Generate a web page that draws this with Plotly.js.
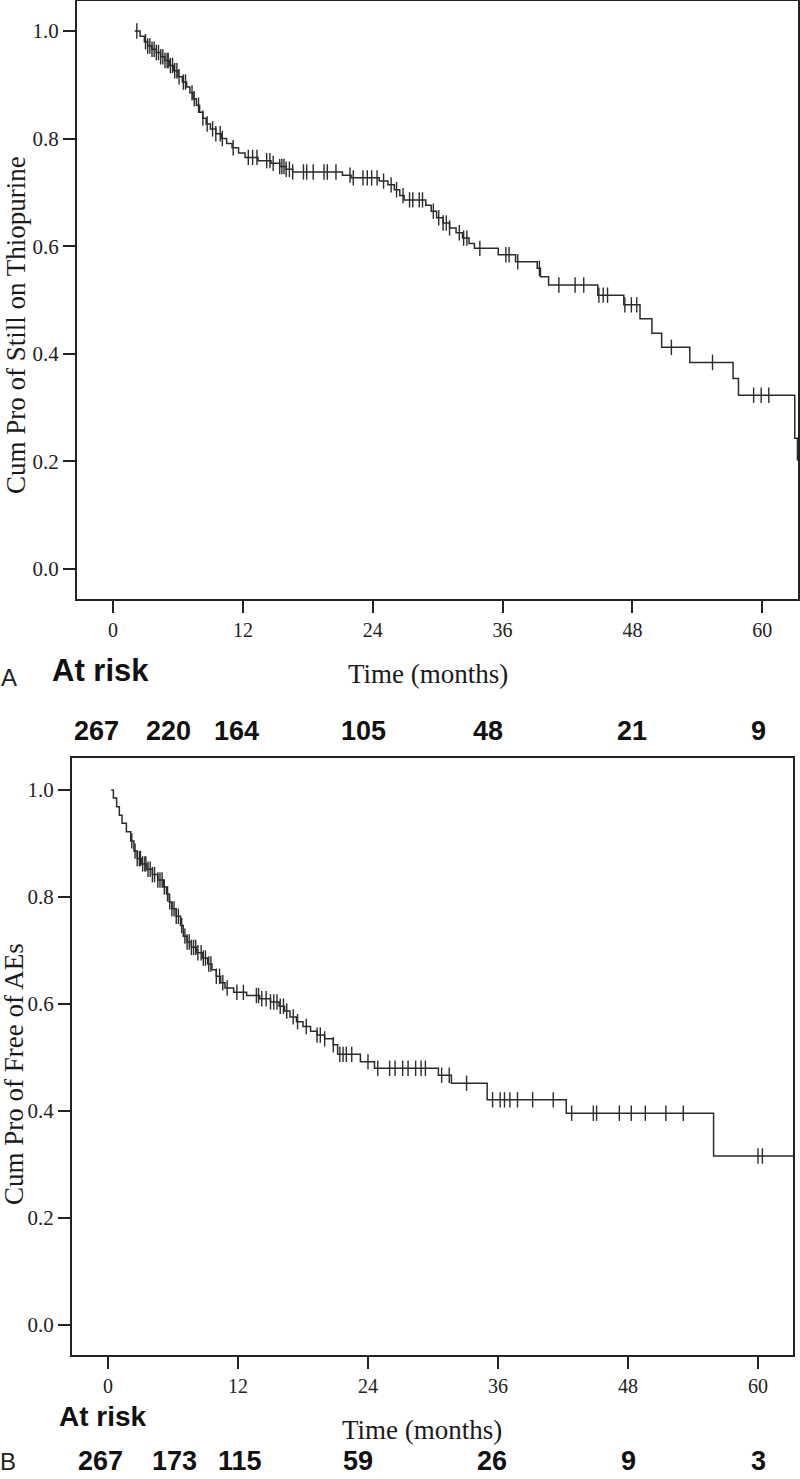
<!DOCTYPE html>
<html>
<head>
<meta charset="utf-8">
<script src="https://cdn.plot.ly/plotly-3.0.1.min.js"></script>
<style>
  body { margin: 0; background: #fff; }
  #chart { width: 800px; height: 1479px; }
</style>
</head>
<body>
<div id="chart"></div>
<script>
// panel A: still on thiopurine (months, cumulative proportion)
const thioTime = [2.0, 2.5, 2.9, 3.2, 3.6, 4.0, 4.4, 4.8, 5.2, 5.6, 6.0, 6.4, 6.8, 7.1, 7.4, 7.7, 8.0, 8.3, 8.6, 9.0,
  9.5, 10.0, 10.5, 11.0, 11.6, 12.2, 13.4, 14.6, 15.4, 16.0, 16.6, 21.2, 22.0, 24.6, 25.4, 26.0, 26.5, 26.9, 28.9, 29.4,
  29.9, 30.5, 31.1, 31.7, 32.3, 32.9, 33.4, 35.6, 37.2, 39.2, 39.5, 40.25, 44.8, 47.2, 48.7, 49.8, 50.7, 53.3, 57.3, 57.8,
  63.0, 63.25, 64.0];
const thioSurv = [1.000, 0.990, 0.980, 0.972, 0.966, 0.960, 0.952, 0.945, 0.936, 0.926, 0.915, 0.905, 0.896, 0.885, 0.874, 0.862, 0.849, 0.838, 0.827, 0.818,
  0.809, 0.800, 0.791, 0.783, 0.773, 0.765, 0.759, 0.754, 0.748, 0.743, 0.738, 0.732, 0.727, 0.721, 0.714, 0.705, 0.694, 0.686, 0.676, 0.665,
  0.653, 0.643, 0.634, 0.625, 0.615, 0.605, 0.596, 0.584, 0.571, 0.559, 0.543, 0.528, 0.509, 0.491, 0.465, 0.438, 0.412, 0.384, 0.354, 0.323,
  0.243, 0.203, 0.203];
const thioCensor = [2.2, 3.0, 3.2, 3.4, 3.6, 3.8, 4.0, 4.2, 4.4, 4.6, 4.8, 5.0, 5.1, 5.3, 5.5, 5.7, 5.9, 6.1, 6.5, 6.7,
  7.3, 7.5, 7.9, 8.3, 8.7, 9.2, 9.5, 9.9, 10.1, 11.1, 12.5, 12.9, 13.3, 14.2, 14.5, 14.8, 15.4, 15.6, 15.8, 16.0,
  16.3, 16.6, 17.6, 17.9, 18.5, 19.5, 19.8, 20.6, 21.9, 22.2, 23.1, 23.5, 23.9, 24.4, 25.0, 25.7, 26.2, 26.8, 27.4, 27.7,
  28.3, 28.6, 29.6, 30.1, 30.5, 30.8, 31.1, 32.0, 32.4, 32.7, 33.9, 36.3, 36.6, 37.4, 39.4, 41.2, 42.7, 43.5, 44.9, 45.3,
  45.7, 47.3, 47.9, 48.4, 51.6, 55.4, 59.2, 59.9, 60.6];

// panel B: free of adverse events
const aeTime = [0.3, 0.5, 0.8, 1.05, 1.3, 1.7, 2.1, 2.4, 2.7, 3.1, 3.6, 4.1, 4.6, 5.1, 5.4, 5.65, 5.9, 6.3, 6.7, 6.95,
  7.3, 7.7, 8.2, 8.7, 9.2, 9.6, 10.0, 10.4, 10.8, 11.6, 12.8, 14.0, 15.0, 15.8, 16.3, 16.8, 17.4, 18.0, 18.7, 19.3,
  20.0, 20.8, 21.2, 23.3, 24.6, 30.5, 31.7, 35.0, 42.3, 55.9, 64.0];
const aeSurv = [1.000, 0.985, 0.969, 0.953, 0.938, 0.922, 0.905, 0.886, 0.872, 0.862, 0.852, 0.842, 0.832, 0.819, 0.806, 0.791, 0.778, 0.764, 0.747, 0.727,
  0.716, 0.706, 0.696, 0.686, 0.675, 0.664, 0.652, 0.640, 0.630, 0.622, 0.616, 0.610, 0.604, 0.596, 0.587, 0.576, 0.567, 0.558, 0.549, 0.542,
  0.535, 0.524, 0.506, 0.492, 0.480, 0.467, 0.452, 0.421, 0.396, 0.316, 0.316];
const aeCensor = [2.2, 2.5, 2.7, 2.9, 3.0, 3.2, 3.4, 3.5, 3.7, 3.9, 4.1, 4.3, 4.6, 4.8, 5.0, 5.2, 5.5, 5.7, 5.9, 6.1,
  6.3, 6.5, 6.8, 7.1, 7.3, 7.5, 7.7, 7.9, 8.1, 8.3, 8.6, 8.8, 9.0, 9.3, 9.5, 10.0, 10.3, 10.6, 11.0, 11.9,
  12.5, 13.7, 13.9, 14.2, 14.6, 15.0, 15.3, 15.6, 15.9, 16.2, 16.5, 17.1, 17.5, 18.3, 19.3, 19.6, 20.0, 20.8, 21.4, 21.7,
  22.0, 22.5, 24.0, 24.9, 26.0, 26.5, 27.2, 27.7, 28.4, 28.9, 29.3, 30.8, 31.5, 33.1, 35.5, 36.2, 36.6, 37.1, 37.8, 39.2,
  41.1, 42.8, 44.8, 45.1, 47.2, 48.3, 49.6, 51.5, 53.1, 60.0, 60.4];

const xTicks = [0, 12, 24, 36, 48, 60];
const yTicks = [0, 0.2, 0.4, 0.6, 0.8, 1.0];
const atRiskThio = ["267", "220", "164", "105", "48", "21", "9"];
const atRiskAE = ["267", "173", "115", "59", "26", "9", "3"];

// pixel -> paper helpers
const W = 800, H = 1479;
const px = (v) => v / W;
const py = (v) => 1 - v / H;

// value of the step curve at time t (for censor marks)
const stepAt = (times, surv, t) => {
  let s = surv[0];
  for (let i = 0; i < times.length; i++) {
    if (times[i] <= t) s = surv[i];
  }
  return s;
};

const ink = "#2b2b2b";
const serif = "Liberation Serif, Times New Roman, serif";
const sans = "Liberation Sans, Arial, sans-serif";

const curve = (t, s, xa, ya) => ({
  x: t, y: s, xaxis: xa, yaxis: ya, type: "scatter", mode: "lines",
  line: { shape: "hv", color: ink, width: 1.5 }, hoverinfo: "skip", showlegend: false
});
const marks = (c, t, s, xa, ya) => ({
  x: c, y: c.map((v) => stepAt(t, s, v)), xaxis: xa, yaxis: ya, type: "scatter", mode: "markers",
  marker: { symbol: "line-ns-open", size: 11, color: ink, line: { color: ink, width: 1.4 } }, hoverinfo: "skip", showlegend: false
});

const data = [
  curve(thioTime, thioSurv, "x", "y"),
  marks(thioCensor, thioTime, thioSurv, "x", "y"),
  curve(aeTime, aeSurv, "x2", "y2"),
  marks(aeCensor, aeTime, aeSurv, "x2", "y2")
];

const xAxis = (dom, range, anchor) => ({
  domain: dom, range: range, anchor: anchor, tickvals: xTicks, ticks: "outside", ticklen: 12, tickwidth: 2,
  tickcolor: "#222", showline: true, mirror: true, linewidth: 2, linecolor: "#222", showgrid: false, zeroline: false,
  tickfont: { family: serif, size: 20, color: "#222" }, fixedrange: true
});
const yAxis = (dom, range, anchor) => ({
  domain: dom, range: range, anchor: anchor, tickvals: yTicks, tickformat: ".1f", ticks: "outside", ticklen: 12, tickwidth: 2,
  tickcolor: "#222", showline: true, mirror: true, linewidth: 2, linecolor: "#222", showgrid: false, zeroline: false,
  tickfont: { family: serif, size: 21, color: "#222" }, fixedrange: true
});

const riskPosThio = [96, 168, 236, 363, 488, 632, 758];
const riskPosAE = [100, 174, 240, 358, 492, 628, 758];

const text = (x, y, s, font, angle) => ({
  xref: "paper", yref: "paper", x: px(x), y: py(y), text: s, showarrow: false,
  xanchor: "center", yanchor: "middle", textangle: angle || 0, font: font
});

const titleFont = { family: serif, size: 27, color: "#1a1a1a" };
const riskFont = { family: sans, size: 27, color: "#111" };
const annotations = [
  text(16, 325, "Cum Pro of Still on Thiopurine", titleFont, -90),
  text(428, 674, "Time (months)", titleFont),
  text(9, 677, "A", { family: sans, size: 24, color: "#222" }),
  text(100, 670, "<b>At risk</b>", { family: sans, size: 31, color: "#111" }),
  text(14, 1074, "Cum Pro of Free of AEs", titleFont, -90),
  text(422, 1430, "Time (months)", titleFont),
  text(8, 1461, "B", { family: sans, size: 24, color: "#222" }),
  text(103, 1416, "<b>At risk</b>", { family: sans, size: 28, color: "#111" })
];
atRiskThio.forEach((n, i) => annotations.push(text(riskPosThio[i], 731, "<b>" + n + "</b>", riskFont)));
atRiskAE.forEach((n, i) => annotations.push(text(riskPosAE[i], 1461, "<b>" + n + "</b>", riskFont)));

const layout = {
  width: W, height: H, margin: { l: 0, r: 0, t: 0, b: 0 },
  paper_bgcolor: "#fff", plot_bgcolor: "#fff", showlegend: false,
  xaxis: xAxis([px(77), px(798)], [-3.33, 63.3], "y"),
  yaxis: yAxis([py(599), py(1)], [-0.0557, 1.0557], "x"),
  xaxis2: xAxis([px(72), px(793)], [-3.32, 63.23], "y2"),
  yaxis2: yAxis([py(1355), py(758)], [-0.056, 1.06], "x2"),
  annotations: annotations
};

Plotly.newPlot("chart", data, layout, { displayModeBar: false, staticPlot: true });
</script>
</body>
</html>
